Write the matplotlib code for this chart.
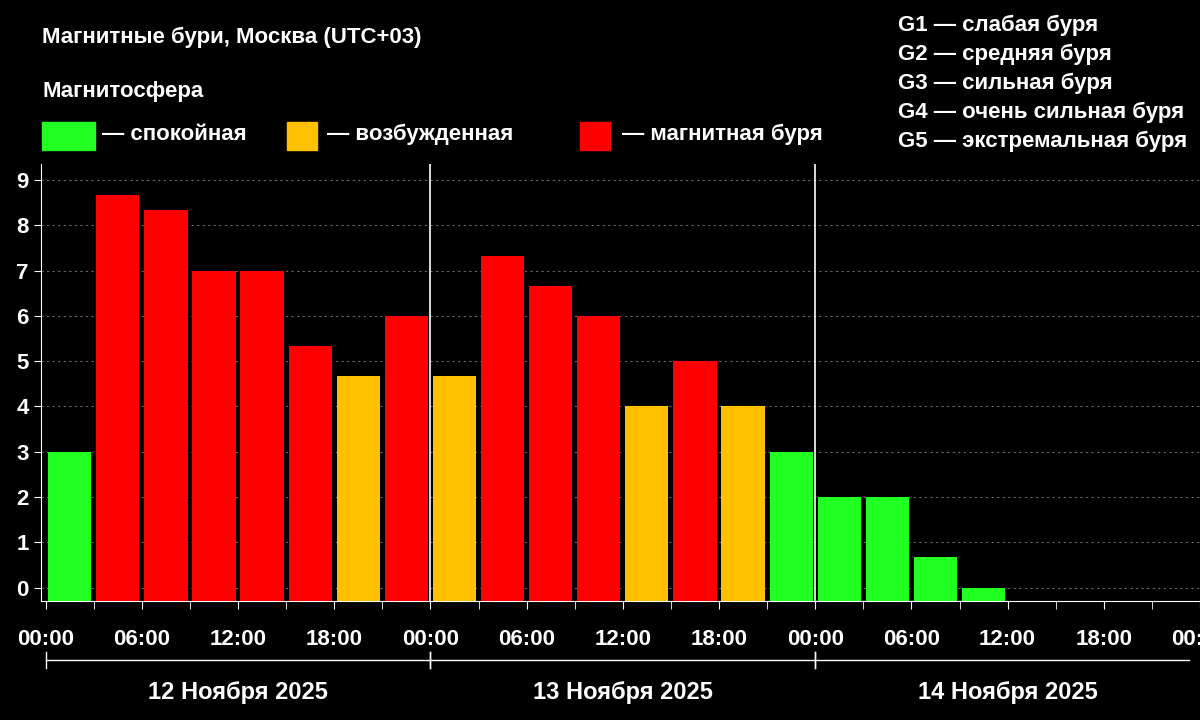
import matplotlib
matplotlib.use("Agg")
import matplotlib.pyplot as plt
from matplotlib.patches import Rectangle
from matplotlib.transforms import blended_transform_factory

hours = [0, 3, 6, 9, 12, 15, 18, 21,
         24, 27, 30, 33, 36, 39, 42, 45,
         48, 51, 54, 57]
kp = [3, 8.67, 8.33, 7, 7, 5.33, 4.67, 6,
      4.67, 7.33, 6.67, 6, 4, 5, 4, 3,
      2, 2, 0.67, 0]
tick_labels = ["00:00", "06:00", "12:00", "18:00"] * 3 + ["00:00"]
days = ["12 Ноября 2025", "13 Ноября 2025", "14 Ноября 2025"]
legend_items = ["— спокойная", "— возбужденная", "— магнитная буря"]
g_items = ["G1 — слабая буря", "G2 — средняя буря", "G3 — сильная буря",
           "G4 — очень сильная буря", "G5 — экстремальная буря"]

GREEN, YELLOW, RED = "#22ff22", "#ffc000", "#ff0000"
def col(v):
    if v < 4: return GREEN
    if v < 5: return YELLOW
    return RED

plt.rcParams['font.family'] = ['Liberation Sans', 'DejaVu Sans']
fig = plt.figure(figsize=(12, 7.2), dpi=100, facecolor="black")
ax = fig.add_axes([0.034, 0.165, 0.966, 0.607], facecolor="black")
base = -0.3
ax.bar([h + 0.15 for h in hours], [v - base for v in kp], bottom=base, width=2.7,
       align="edge", color=[col(v) for v in kp], zorder=3)
ax.set_xlim(-0.3, 71.0)
ax.set_ylim(base, 9.35)
for y in range(10):
    ax.axhline(y, color="#666666", ls=(0, (2, 3)), lw=0.8, zorder=1)
for d in (24, 48):
    ax.axvline(d, color="white", lw=1.2, zorder=2)
ax.set_yticks(range(10))
ax.set_yticklabels([str(i) for i in range(10)], color="white", fontsize=16, fontweight="bold")
ax.set_xticks(range(0, 73, 6))
ax.set_xticklabels(tick_labels, color="white", fontsize=16, fontweight="bold")
ax.set_xticks(range(0, 73, 3), minor=True)
ax.tick_params(axis="x", which="both", colors="white", length=6, pad=14)
ax.tick_params(axis="y", colors="white", length=5)
for s in ("top", "right"):
    ax.spines[s].set_visible(False)
for s in ("left", "bottom"):
    ax.spines[s].set_color("white")

tr = blended_transform_factory(ax.transData, fig.transFigure)
for i, dname in enumerate(days):
    x0, x1 = 24 * i, 24 * (i + 1)
    ax.plot([x0, min(x1, 71.3)], [1 - 660/720] * 2, transform=tr, color="white", lw=1, clip_on=False)
    for xx in (x0, x1):
        if xx <= 71.3:
            ax.plot([xx, xx], [1 - 668/720, 1 - 652/720], transform=tr, color="white", lw=1, clip_on=False)
    ax.text(x0 + 12, 1 - 692/720, dname, transform=tr, color="white", fontsize=17,
            fontweight="bold", ha="center", va="center")

fig.text(42/1200, 1 - 37/720, "Магнитные бури, Москва (UTC+03)", color="white",
         fontsize=16, fontweight="bold", va="center")
fig.text(42/1200, 1 - 91/720, "Магнитосфера", color="white", fontsize=16,
         fontweight="bold", va="center")
for (x, c, t, tx) in [(42, GREEN, legend_items[0], 102), (287, YELLOW, legend_items[1], 327),
                      (580, RED, legend_items[2], 622)]:
    w = 53 if x == 42 else 30
    fig.patches.append(Rectangle((x/1200, 1 - 150/720), w/1200, 28/720, color=c,
                                 transform=fig.transFigure))
    fig.text(tx/1200, 1 - 134/720, t, color="white", fontsize=16, fontweight="bold", va="center")
for i, t in enumerate(g_items):
    fig.text(898/1200, 1 - (25 + 29 * i)/720, t, color="white", fontsize=16,
             fontweight="bold", va="center")

fig.savefig("out.png", dpi=100, facecolor="black")
